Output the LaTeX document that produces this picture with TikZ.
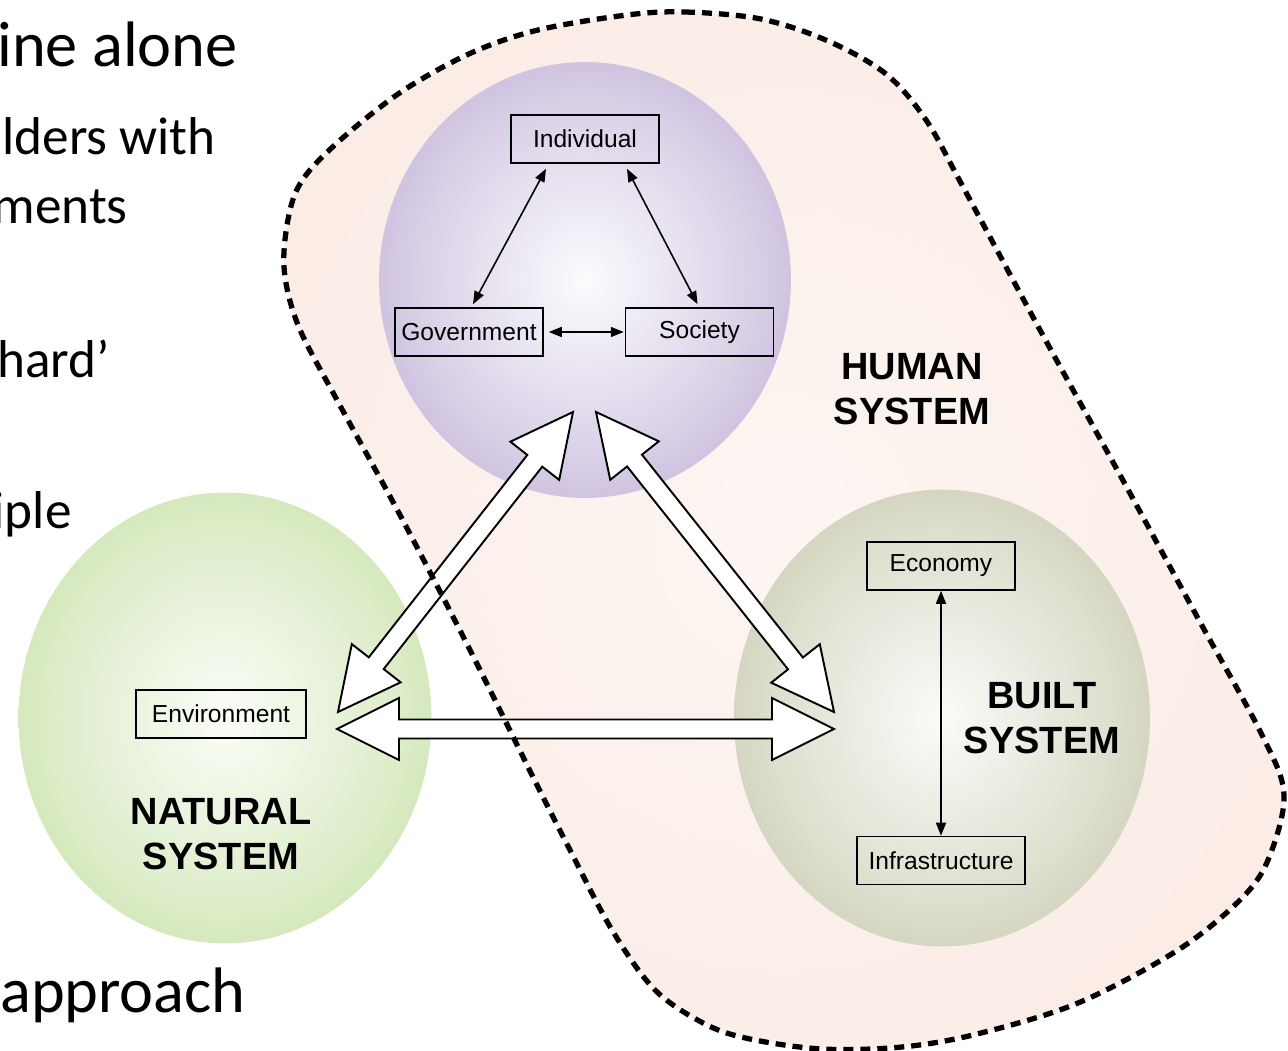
\documentclass[tikz,border=0pt]{standalone}
\usepackage{fontspec}
\setmainfont{Liberation Sans}
\newfontfamily\slidefont{Carlito}
\usetikzlibrary{calc,arrows.meta,positioning,shapes.geometric}

\definecolor{humanpurple}{RGB}{172,152,202}
\definecolor{naturalgreen}{RGB}{182,216,140}
\definecolor{builtolive}{RGB}{182,184,148}
\definecolor{humanpink}{RGB}{250,232,224}

\pgfdeclareradialshading{humanshade}{\pgfpoint{0bp}{0bp}}{color(0bp)=(white!96!humanpurple); color(20bp)=(white!55!humanpurple); color(42bp)=(humanpurple); color(50bp)=(humanpurple)}
\pgfdeclareradialshading{naturalshade}{\pgfpoint{0bp}{0bp}}{color(0bp)=(white!94!naturalgreen); color(20bp)=(white!55!naturalgreen); color(42bp)=(naturalgreen); color(50bp)=(naturalgreen)}
\pgfdeclareradialshading{builtshade}{\pgfpoint{0bp}{0bp}}{color(0bp)=(white!94!builtolive); color(20bp)=(white!55!builtolive); color(42bp)=(builtolive); color(50bp)=(builtolive)}
\pgfdeclareradialshading{blobshade}{\pgfpoint{0bp}{0bp}}{color(0bp)=(white!60!humanpink); color(40bp)=(humanpink); color(50bp)=(humanpink)}

\newcommand{\headlen}{1.24cm}
\newcommand{\headhalf}{0.62cm}
\newcommand{\shafthalf}{0.19cm}

\tikzstyle{slide} = [anchor=base east, inner sep=0pt, font=\slidefont\fontsize{36.6}{38}\selectfont]
\tikzstyle{subslide} = [slide, font=\slidefont\fontsize{30.3}{32}\selectfont]
\tikzstyle{systemball} = [ellipse, inner sep=0pt, outer sep=0pt, shade]
\tikzstyle{box} = [rectangle, draw=black, line width=0.9pt, minimum width=2.96cm, minimum height=0.96cm, inner xsep=0.08cm, font=\fontsize{14}{16}\selectfont]
\tikzstyle{syslabel} = [align=center, inner sep=0pt, font=\bfseries\fontsize{21.6}{25.3}\selectfont]
\tikzstyle{link} = [draw, line width=0.9pt, <->, >={Triangle[length=0.26cm,width=0.2cm]}]
\tikzstyle{bigarrow} = [draw=black, line width=1.1pt, fill=white, line join=miter,
  to path={
    -- ($(\tikztostart)!\headlen!(\tikztotarget)!\headhalf!90:(\tikztotarget)$)
    -- ($(\tikztostart)!\headlen!(\tikztotarget)!\shafthalf!90:(\tikztotarget)$)
    -- ($(\tikztotarget)!\headlen!(\tikztostart)!\shafthalf!-90:(\tikztostart)$)
    -- ($(\tikztotarget)!\headlen!(\tikztostart)!\headhalf!-90:(\tikztostart)$)
    -- (\tikztotarget)
    -- ($(\tikztotarget)!\headlen!(\tikztostart)!\headhalf!90:(\tikztostart)$)
    -- ($(\tikztotarget)!\headlen!(\tikztostart)!\shafthalf!90:(\tikztostart)$)
    -- ($(\tikztostart)!\headlen!(\tikztotarget)!\shafthalf!-90:(\tikztotarget)$)
    -- ($(\tikztostart)!\headlen!(\tikztotarget)!\headhalf!-90:(\tikztotarget)$)
    -- cycle}]
\tikzstyle{humanborder} = [draw=black, line width=3pt, dash pattern=on 0.2cm off 0.14cm]

\begin{document}
\begin{tikzpicture}[x=0.02cm, y=-0.02cm]

\useasboundingbox (0,0) rectangle (1288,1051);
\fill[white] (0,0) rectangle (1288,1051);
\clip (0,0) rectangle (1288,1051);

% slide text, cut at the left edge
\node[slide] (txtalone) at (238,67) {ine alone};
\node[subslide] (txtwith) at (216,154) {lders with};
\node[subslide] (txtments) at (128,223) {ments};
\node[subslide] (txthard) at (110,377) {hard’};
\node[subslide] (txtiple) at (72,528) {iple};
\node[slide] (txtapproach) at (246,1012) {approach};

% human system area
\shade[shading=blobshade] plot[smooth cycle, tension=0.55] coordinates {
  (627,15) (685,12) (761,19) (828,41) (886,74) (926,120) (962,185)
  (1040,330) (1120,475) (1200,622) (1262,735) (1284,795) (1268,860)
  (1240,900) (1178,950) (1078,1003) (977,1034) (902,1047) (822,1049)
  (750,1039) (705,1024) (655,990) (612,930) (570,850) (533,777)
  (470,650) (400,515) (337,400) (298,325) (284,267) (290,210)
  (306,175) (346,135) (404,90) (471,53) (538,30)};

% the three systems
\node[systemball, shading=humanshade, minimum width=8.24cm, minimum height=8.72cm] (human) at (585,280) {};
\node[systemball, shading=naturalshade, minimum width=8.26cm, minimum height=9.02cm] (natural) at (225,718) {};
\node[systemball, shading=builtshade, minimum width=8.32cm, minimum height=9.14cm] (built) at (942,718) {};

\node[box] (ind) at (585,139) {Individual};
\node[box] (gov) at (469,332) {Government};
\node[box, right=1.62cm of gov] (soc) {Society};
\draw[link] ([xshift=-0.78cm,yshift=-0.1cm]ind.south) -- ([xshift=0.08cm,yshift=0.06cm]gov.north);
\draw[link] ([xshift=0.84cm,yshift=-0.1cm]ind.south) -- ([xshift=-0.04cm,yshift=0.06cm]soc.north);
\draw[link, shorten <=0.1cm, shorten >=0.02cm] (gov) -- (soc);

\node[box] (eco) at (941,566) {Economy};
\node[box, minimum width=3.36cm, below=4.9cm of eco] (inf) {Infrastructure};
\draw[link] (eco) -- (inf);

\node[box, minimum width=3.4cm] (env) at (221,714) {Environment};

\node[syslabel] (humlabel) at (912,389) {HUMAN\\SYSTEM};
\node[syslabel] (bltlabel) at (1042,718) {BUILT\\SYSTEM};
\node[syslabel] (natlabel) at (221,834) {NATURAL\\SYSTEM};

% links between the systems
\coordinate (natE) at (337,729);
\coordinate (bltW) at (834,729);
\coordinate (natNE) at (338,712);
\coordinate (humSW) at (573,412);
\coordinate (humSE) at (596,412);
\coordinate (bltNW) at (834,712);
\draw[bigarrow] (natE) to (bltW);
\draw[bigarrow] (natNE) to (humSW);
\draw[bigarrow] (humSE) to (bltNW);

% dashed border of the human system, on top
\draw[humanborder] plot[smooth cycle, tension=0.55] coordinates {
  (627,15) (685,12) (761,19) (828,41) (886,74) (926,120) (962,185)
  (1040,330) (1120,475) (1200,622) (1262,735) (1284,795) (1268,860)
  (1240,900) (1178,950) (1078,1003) (977,1034) (902,1047) (822,1049)
  (750,1039) (705,1024) (655,990) (612,930) (570,850) (533,777)
  (470,650) (400,515) (337,400) (298,325) (284,267) (290,210)
  (306,175) (346,135) (404,90) (471,53) (538,30)};

\end{tikzpicture}
\end{document}
